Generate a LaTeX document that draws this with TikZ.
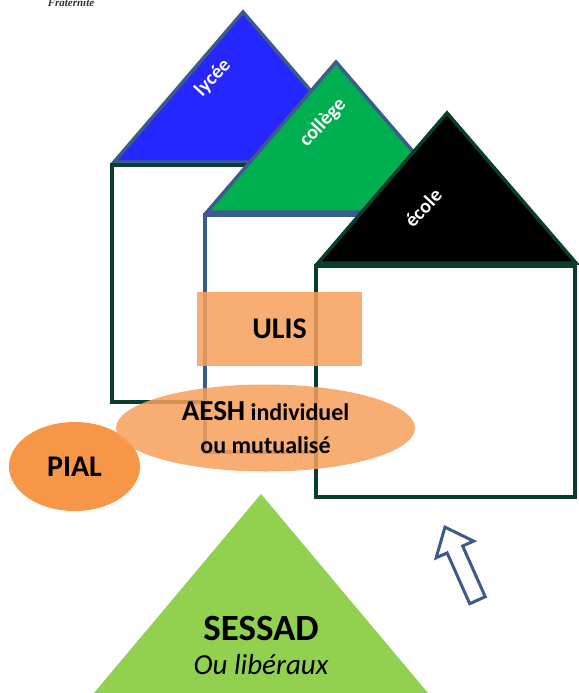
\documentclass[tikz,border=0pt]{standalone}
\usepackage{fontspec}
\setmainfont{Carlito}
\newfontfamily\fratfont{Liberation Serif}
\usetikzlibrary{shapes.arrows,shapes.geometric}
\definecolor{roofline}{HTML}{3C5B8B}
\definecolor{wallgreen}{HTML}{0A3D2D}
\definecolor{lyceeblue}{HTML}{2626FF}
\definecolor{collegegreen}{HTML}{00B050}
\definecolor{pialorange}{HTML}{F79646}
\definecolor{aeshorange}{HTML}{F7A05A}
\definecolor{sessadgreen}{HTML}{92D050}

\begin{document}
\begin{tikzpicture}[
    x=1pt, y=-1pt,
    roof/.style={line width=3.5pt, line join=miter},
    wall/.style={line width=3.5pt, fill=white},
    roofname/.style={text=white, font=\bfseries\fontsize{20}{22}\selectfont, rotate=47},
    aeshfill/.style={fill=aeshorange, fill opacity=0.85, text opacity=1},
    bigname/.style={font=\bfseries\fontsize{30}{32}\selectfont}
]
\useasboundingbox (0,0) rectangle (578,693);

\node[font=\fratfont\bfseries\itshape\fontsize{11}{12}\selectfont, text=black!80, anchor=base] (frat) at (71,7) {Fraternité};

\foreach \ax/\ay/\bot/\rfill/\rdraw/\wdraw/\lx/\ly/\name/\txt in {
    243/12/402/lyceeblue/roofline/wallgreen/213/78/lycee/lycée,
    336/62/452/collegegreen/roofline/roofline/323/123/college/collège,
    447/113/497/black/wallgreen/wallgreen/423/208/ecole/école}{
  \filldraw[roof, fill=\rfill, draw=\rdraw] (\ax,\ay) -- ({\ax-129},{\ay+150}) -- ({\ax+129},{\ay+150}) -- cycle;
  \draw[wall, draw=\wdraw] ({\ax-131},{\ay+153}) rectangle ({\ax+128},\bot);
  \node[roofname] (\name) at (\lx,\ly) {\txt};
}

\node[aeshfill, bigname, minimum width=165pt, minimum height=74pt] (ulis) at (279.5,329) {ULIS};

\node[ellipse, fill=pialorange, bigname, minimum width=131pt, minimum height=89pt, inner sep=0pt] (pial) at (74.5,466.5) {PIAL};

\node[ellipse, aeshfill, minimum width=299pt, minimum height=87pt, inner sep=0pt, align=center,
      font=\bfseries\fontsize{24}{33}\selectfont] (aesh) at (265.5,428)
      {{\fontsize{29}{33}\selectfont AESH} individuel\\ou mutualisé};

\fill[sessadgreen] (261,494) -- (94,693) -- (428,693) -- cycle;
\node[font=\bfseries\fontsize{37}{39}\selectfont] (sessad) at (261,628) {SESSAD};
\node[font=\itshape\fontsize{29}{31}\selectfont] (liberaux) at (261,665) {Ou libéraux};

\node[single arrow, draw=roofline, fill=white, line width=3pt, minimum height=80pt, inner sep=7pt,
      single arrow head extend=12pt, single arrow tip angle=80, rotate=114, anchor=tip] (up) at (444,525) {};

\end{tikzpicture}
\end{document}
